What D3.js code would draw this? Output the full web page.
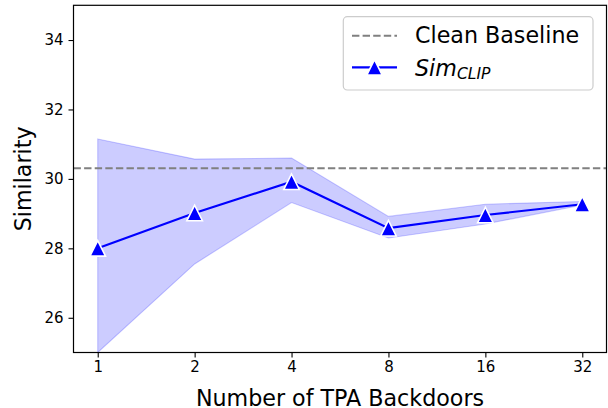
<!DOCTYPE html>
<html>
<head>
<meta charset="utf-8">
<script src="https://cdn.jsdelivr.net/npm/d3@7"></script>
<style>
  html, body { margin: 0; padding: 0; background: #fff; }
  svg { display: block; font-family: "DejaVu Sans", sans-serif; }
</style>
</head>
<body>
<svg id="chart" width="608" height="408"></svg>
<script>
// ---- data ----
const categories = ["1", "2", "4", "8", "16", "32"];
const simValues  = [28.0, 29.02, 29.92, 28.58, 28.96, 29.27];
const bandUpper  = [31.15, 30.57, 30.6, 28.92, 29.27, 29.35];
const bandLower  = [25.0, 27.55, 29.32, 28.3, 28.7, 29.25];
const baselineValue = 30.31;
const yTicks = [26, 28, 30, 32, 34];
const yDomain = [25, 35];
const xLabel = "Number of TPA Backdoors";
const yLabel = "Similarity";
const legendBaseline = "Clean Baseline";
const legendSimMain = "Sim";
const legendSimSub = "CLIP";

// ---- layout ----
const svg = d3.select("#chart");
const L = 73.5, R = 606.5, T = 5.3, B = 352.5;

const x = d3.scalePoint().domain(categories).range([L, R]).padding(0.25);
const y = d3.scaleLinear().domain(yDomain).range([B, T]);

const data = categories.map((c, i) => ({c, v: simValues[i], hi: bandUpper[i], lo: bandLower[i]}));

svg.append("defs").append("clipPath").attr("id", "clip")
  .append("rect").attr("x", L).attr("y", T).attr("width", R - L).attr("height", B - T);

const plot = svg.append("g").attr("clip-path", "url(#clip)");

// band
const area = d3.area().x(d => x(d.c)).y0(d => y(d.lo)).y1(d => y(d.hi));
plot.append("path").datum(data)
  .attr("d", area)
  .attr("fill", "blue").attr("fill-opacity", 0.2)
  .attr("stroke", "blue").attr("stroke-opacity", 0.2).attr("stroke-width", 1.1);

// baseline
plot.append("line")
  .attr("x1", L).attr("x2", R)
  .attr("y1", y(baselineValue)).attr("y2", y(baselineValue))
  .attr("stroke", "#808080").attr("stroke-width", 2)
  .attr("stroke-dasharray", "7.4,3.2");

// main line
const line = d3.line().x(d => x(d.c)).y(d => y(d.v));
plot.append("path").datum(data)
  .attr("d", line)
  .attr("fill", "none").attr("stroke", "blue").attr("stroke-width", 2.2);

// markers
const ms = 15.5;
const tri = `M0,${-ms/2}L${-ms/2},${ms/2}L${ms/2},${ms/2}Z`;
svg.append("g").selectAll("path").data(data).join("path")
  .attr("transform", d => `translate(${x(d.c)},${y(d.v)})`)
  .attr("d", tri)
  .attr("fill", "blue").attr("stroke", "white").attr("stroke-width", 1.6)
  .attr("stroke-linejoin", "miter");

// axes
const xAxis = d3.axisBottom(x).tickSize(5).tickPadding(4);
const gx = svg.append("g").attr("transform", `translate(0,${B})`).call(xAxis);
const yAxis = d3.axisLeft(y).tickValues(yTicks).tickFormat(d3.format("d")).tickSize(5).tickPadding(5);
const gy = svg.append("g").attr("transform", `translate(${L},0)`).call(yAxis);
[gx, gy].forEach(g => {
  g.select(".domain").remove();
  g.selectAll(".tick line").attr("stroke", "#000").attr("stroke-width", 1.1);
  g.selectAll(".tick text").attr("font-size", 15).attr("fill", "#000")
    .attr("font-family", "DejaVu Sans");
});
gx.selectAll(".tick text").attr("dy", "0.71em");

// frame
svg.append("rect").attr("x", L).attr("y", T).attr("width", R - L).attr("height", B - T)
  .attr("fill", "none").attr("stroke", "#000").attr("stroke-width", 1.2);

// labels
svg.append("text").attr("x", (L + R) / 2).attr("y", 405.5)
  .attr("text-anchor", "middle").attr("font-size", 22.2).attr("fill", "#000")
  .text(xLabel);
svg.append("text")
  .attr("transform", `translate(31,${(T + B) / 2}) rotate(-90)`)
  .attr("text-anchor", "middle").attr("font-size", 22.2).attr("fill", "#000")
  .text(yLabel);

// legend
const lg = svg.append("g");
lg.append("rect").attr("x", 343.3).attr("y", 16.7).attr("width", 249.7).attr("height", 73.3)
  .attr("rx", 4).attr("ry", 4)
  .attr("fill", "#fff").attr("fill-opacity", 0.8)
  .attr("stroke", "#cccccc").attr("stroke-width", 1.2);
const hx0 = 352, hx1 = 397;
lg.append("line").attr("x1", hx0).attr("x2", hx1).attr("y1", 35.7).attr("y2", 35.7)
  .attr("stroke", "#808080").attr("stroke-width", 2).attr("stroke-dasharray", "7.4,3.2");
lg.append("text").attr("x", 415).attr("y", 43.2).attr("font-size", 22.2).attr("fill", "#000")
  .text(legendBaseline);
lg.append("line").attr("x1", hx0).attr("x2", hx1).attr("y1", 67.3).attr("y2", 67.3)
  .attr("stroke", "blue").attr("stroke-width", 2.2);
lg.append("path").attr("transform", `translate(${(hx0 + hx1) / 2},67.3)`).attr("d", tri)
  .attr("fill", "blue").attr("stroke", "white").attr("stroke-width", 1.6);
const st = lg.append("text").attr("x", 415).attr("y", 75.5).attr("font-size", 22.2)
  .attr("fill", "#000").attr("font-style", "italic");
st.append("tspan").text(legendSimMain);
st.append("tspan").attr("font-size", 15.6).attr("dy", 3.5).text(legendSimSub);
</script>
</body>
</html>
